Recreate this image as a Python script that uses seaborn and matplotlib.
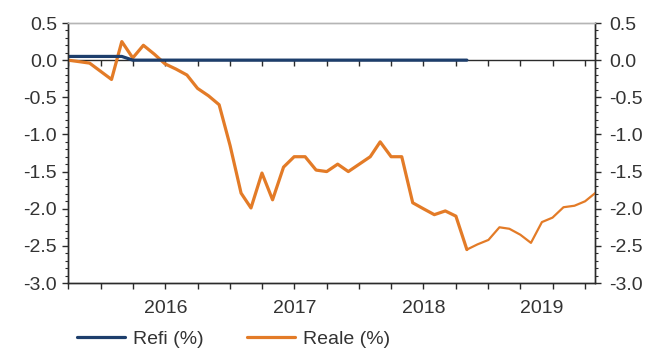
import numpy as np
import pandas as pd
import matplotlib
matplotlib.use("Agg")
import matplotlib.pyplot as plt
from matplotlib.markers import TICKDOWN
from matplotlib.lines import Line2D
from matplotlib.ticker import MultipleLocator, FormatStrFormatter
import seaborn as sns

# Monthly observations
months = pd.date_range("2015-10-01", "2019-11-01", freq="MS")
reale = [0.00, -0.02, -0.04,
         -0.15, -0.26, 0.25, 0.03, 0.20, 0.08, -0.05, -0.12, -0.20, -0.38, -0.48, -0.60,
         -1.15, -1.79, -1.99, -1.52, -1.88, -1.44, -1.30, -1.30, -1.48, -1.50, -1.40, -1.50,
         -1.40, -1.30, -1.10, -1.30, -1.30, -1.92, -2.00, -2.08, -2.03, -2.10, -2.55, -2.48,
         -2.42, -2.25, -2.27, -2.35, -2.46, -2.18, -2.12, -1.98, -1.96, -1.90, -1.78]
refi_months = pd.date_range("2015-10-01", "2018-11-01", freq="MS")
refi = [0.05, 0.05, 0.05, 0.05, 0.05, 0.05,
        0.00, 0.00, 0.00, 0.00, 0.00, 0.00, 0.00, 0.00, 0.00,
        0.00, 0.00, 0.00, 0.00, 0.00, 0.00, 0.00, 0.00, 0.00, 0.00, 0.00, 0.00,
        0.00, 0.00, 0.00, 0.00, 0.00, 0.00, 0.00, 0.00, 0.00, 0.00, 0.00]
year_labels = [2016, 2017, 2018, 2019]
series_names = ["Refi (%)", "Reale (%)"]

NAVY = "#1d3e6c"
ORANGE = "#e37b27"
INK = "#333333"
AXC = "#2b2b2b"
FS = 14

sns.set_theme(style="white")
plt.rcParams["font.family"] = ["Liberation Sans", "DejaVu Sans"]
plt.rcParams["font.size"] = FS

df_reale = pd.DataFrame({"date": months, "value": reale})
df_refi = pd.DataFrame({"date": refi_months, "value": refi})
split = pd.Timestamp("2018-11-01")
df_solid = df_reale[df_reale["date"] <= split]
df_thin = df_reale[df_reale["date"] >= split]

fig = plt.figure(figsize=(6.49, 3.49), dpi=100)
ax = fig.add_axes([68 / 649, 1 - 283 / 349, (595 - 68) / 649, (283 - 23) / 349])

x0, x1 = pd.Timestamp("2015-10-17"), pd.Timestamp("2019-10-29")

# zero line with quarterly ticks
quarters = pd.date_range("2015-10-01", "2019-10-01", freq="QS")
ax.axhline(0, color=AXC, lw=1.0, zorder=2)
ax.plot(quarters, np.zeros(len(quarters)), ls="none", marker=TICKDOWN,
        ms=4, mew=1.0, color=AXC, zorder=2)

sns.lineplot(data=df_solid, x="date", y="value", ax=ax, color=ORANGE, lw=2.3, zorder=3)
sns.lineplot(data=df_thin, x="date", y="value", ax=ax, color=ORANGE, lw=1.6, zorder=3)
sns.lineplot(data=df_refi, x="date", y="value", ax=ax, color=NAVY, lw=2.3, zorder=4)

ax.set_xlim(x0, x1)
ax.set_ylim(-3.0, 0.5)
ax.set_xlabel("")
ax.set_ylabel("")

# quarterly ticks on the bottom, year labels centred in the visible part of each year
ax.set_xticks(quarters)
ax.set_xticklabels([])
centers = []
for y in year_labels:
    a = max(pd.Timestamp(f"{y}-01-01"), x0)
    b = min(pd.Timestamp(f"{y + 1}-01-01"), x1)
    centers.append(a + (b - a) / 2)
ax.set_xticks(centers, minor=True)
ax.set_xticklabels([str(y) for y in year_labels], minor=True)
ax.tick_params(axis="x", which="major", direction="out", length=4, width=1,
               color=AXC, bottom=True)
ax.tick_params(axis="x", which="minor", length=0, pad=12, labelsize=FS, labelcolor=INK)

ax.yaxis.set_major_locator(MultipleLocator(0.5))
ax.yaxis.set_minor_locator(MultipleLocator(0.1))
ax.yaxis.set_major_formatter(FormatStrFormatter("%.1f"))
ax.tick_params(axis="y", which="major", direction="out", length=4, width=1,
               color=AXC, pad=4, labelsize=FS, labelcolor=INK, left=True)
ax.tick_params(axis="y", which="minor", direction="out", length=2.5, width=0.8,
               color=AXC, left=True)

ax2 = ax.twinx()
ax2.set_ylim(-3.0, 0.5)
ax2.yaxis.set_major_locator(MultipleLocator(0.5))
ax2.yaxis.set_minor_locator(MultipleLocator(0.1))
ax2.yaxis.set_major_formatter(FormatStrFormatter("%.1f"))
ax2.tick_params(axis="y", which="major", direction="out", length=4, width=1,
                color=AXC, pad=6, labelsize=FS, labelcolor=INK, right=True)
ax2.tick_params(axis="y", which="minor", direction="out", length=2.5, width=0.8,
                color=AXC, right=True)

for a in (ax, ax2):
    for side in ("left", "right", "bottom"):
        a.spines[side].set_color(AXC)
        a.spines[side].set_linewidth(1.0)
    a.spines["top"].set_color("#b5b5b5")
    a.spines["top"].set_linewidth(1.0)

handles = [Line2D([], [], color=NAVY, lw=2.3), Line2D([], [], color=ORANGE, lw=2.3)]
fig.legend(handles, series_names, loc="center left", bbox_to_anchor=(77 / 649, 1 - 339 / 349),
           ncol=2, frameon=False, fontsize=FS, handlelength=2.47, handletextpad=0.42,
           columnspacing=2.2, borderpad=0, borderaxespad=0, labelcolor=INK)

fig.savefig("out.png", dpi=100)
